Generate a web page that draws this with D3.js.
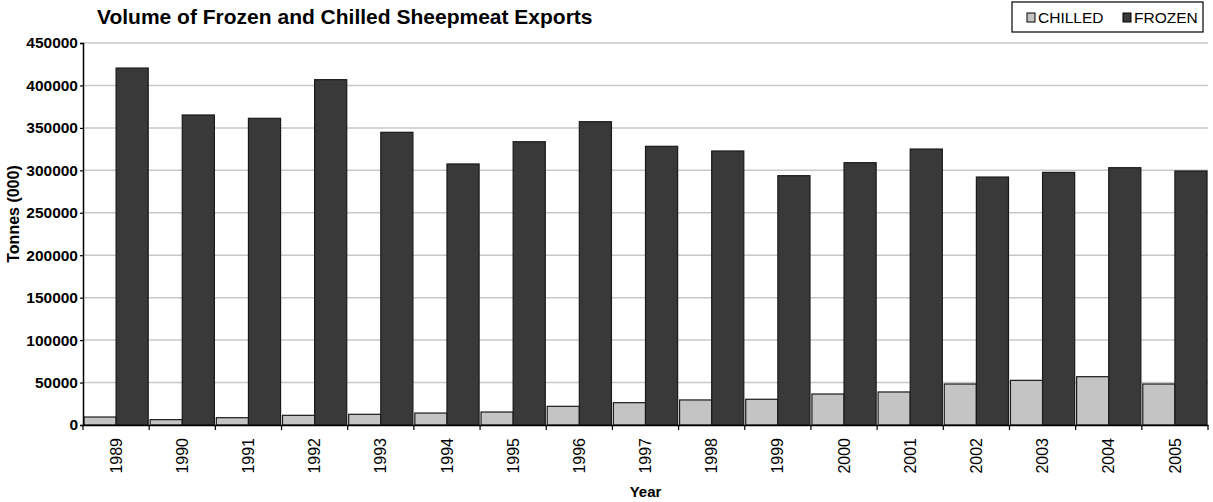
<!DOCTYPE html>
<html>
<head>
<meta charset="utf-8">
<script src="https://cdn.jsdelivr.net/npm/d3@7"></script>
<style>
  html, body { margin: 0; padding: 0; background: #fff; }
  svg { display: block; font-family: "Liberation Sans", Arial, sans-serif; }
</style>
</head>
<body>
<svg id="chart" width="1213" height="502"></svg>
<script>
const years = ["1989","1990","1991","1992","1993","1994","1995","1996","1997","1998","1999","2000","2001","2002","2003","2004","2005"];
const seriesNames = ["CHILLED", "FROZEN"];
const chilled = [9400, 6300, 8600, 11400, 12600, 14100, 15300, 22000, 26300, 29500, 30300, 36500, 38900, 48300, 52600, 56900, 48300];
const frozen = [420500, 365200, 361300, 406800, 344800, 307500, 333700, 357300, 328300, 322800, 293700, 309000, 325100, 292100, 297600, 303100, 299200];
const yTicks = [0, 50000, 100000, 150000, 200000, 250000, 300000, 350000, 400000, 450000];
const seriesColors = ["#c4c4c4", "#393939"];

const svg = d3.select("#chart");
const margin = { left: 83, right: 5, top: 43, bottom: 77 };
const W = 1213, H = 502;
const x0 = d3.scaleBand().domain(years).range([margin.left, W - margin.right]).padding(0);
const x1 = d3.scaleBand().domain(seriesNames).range([0, x0.bandwidth()]).paddingInner(0).paddingOuter(0.03);
const y = d3.scaleLinear().domain([0, 450000]).range([H - margin.bottom, margin.top]);

// gridlines
svg.append("g").selectAll("line").data(yTicks.slice(1)).join("line")
  .attr("x1", margin.left).attr("x2", W - margin.right)
  .attr("y1", d => y(d)).attr("y2", d => y(d))
  .attr("stroke", "#c8c8c8").attr("stroke-width", 1.5);

// bars
const data = years.map((yr, i) => ({ year: yr, vals: [chilled[i], frozen[i]] }));
const groups = svg.append("g").selectAll("g").data(data).join("g")
  .attr("transform", d => `translate(${x0(d.year)},0)`);
groups.selectAll("rect").data(d => d.vals.map((v, j) => ({ key: seriesNames[j], v, j }))).join("rect")
  .attr("x", d => x1(d.key))
  .attr("width", x1.bandwidth())
  .attr("y", d => y(d.v))
  .attr("height", d => y(0) - y(d.v))
  .attr("fill", d => seriesColors[d.j])
  .attr("stroke", "#1a1a1a").attr("stroke-width", 1.2);

// y axis
const yAxis = svg.append("g").attr("transform", `translate(${margin.left},0)`)
  .call(d3.axisLeft(y).tickValues(yTicks).tickFormat(d3.format("d")).tickSize(3).tickPadding(2));
yAxis.select(".domain").attr("stroke", "#000").attr("stroke-width", 1.5);
yAxis.selectAll(".tick line").attr("stroke", "#000").attr("stroke-width", 1.2);
yAxis.selectAll("text").attr("font-size", 15.5).attr("font-weight", "bold").attr("fill", "#000")
  .attr("font-family", "Liberation Sans, Arial, sans-serif");

// x axis
const xAxis = svg.append("g").attr("transform", `translate(0,${y(0)})`)
  .call(d3.axisBottom(x0).tickSize(0).tickFormat(d => d));
xAxis.select(".domain").attr("stroke", "#000").attr("stroke-width", 1.5);
xAxis.selectAll("text")
  .attr("font-size", 16).attr("fill", "#000")
  .attr("font-family", "Liberation Sans, Arial, sans-serif")
  .attr("transform", "rotate(-90)")
  .attr("text-anchor", "end")
  .attr("x", -13).attr("y", 0).attr("dy", "0.35em");
// boundary tick marks
svg.append("g").selectAll("line").data(years.concat(["end"])).join("line")
  .attr("x1", (d, i) => margin.left + i * x0.step())
  .attr("x2", (d, i) => margin.left + i * x0.step())
  .attr("y1", y(0)).attr("y2", y(0) + 5)
  .attr("stroke", "#000").attr("stroke-width", 1.2);

// title
svg.append("text").attr("x", 97).attr("y", 24)
  .attr("font-size", 21).attr("font-weight", "bold").attr("fill", "#000")
  .text("Volume of Frozen and Chilled Sheepmeat Exports");

// axis titles
svg.append("text").attr("transform", `translate(19,214) rotate(-90)`)
  .attr("text-anchor", "middle").attr("font-size", 16).attr("font-weight", "bold")
  .text("Tonnes (000)");
svg.append("text").attr("x", (margin.left + W - margin.right) / 2).attr("y", 497)
  .attr("text-anchor", "middle").attr("font-size", 15).attr("font-weight", "bold")
  .text("Year");

// legend
const lg = svg.append("g");
lg.append("rect").attr("x", 1012).attr("y", 2).attr("width", 191).attr("height", 30)
  .attr("fill", "#fff").attr("stroke", "#000").attr("stroke-width", 1.2);
const legendX = [1027, 1123];
seriesNames.forEach((s, i) => {
  lg.append("rect").attr("x", legendX[i]).attr("y", 13).attr("width", 8).attr("height", 9)
    .attr("fill", seriesColors[i]).attr("stroke", "#000").attr("stroke-width", 1);
  lg.append("text").attr("x", legendX[i] + 11).attr("y", 23)
    .attr("font-size", 15.5).attr("fill", "#000").text(s);
});
</script>
</body>
</html>
